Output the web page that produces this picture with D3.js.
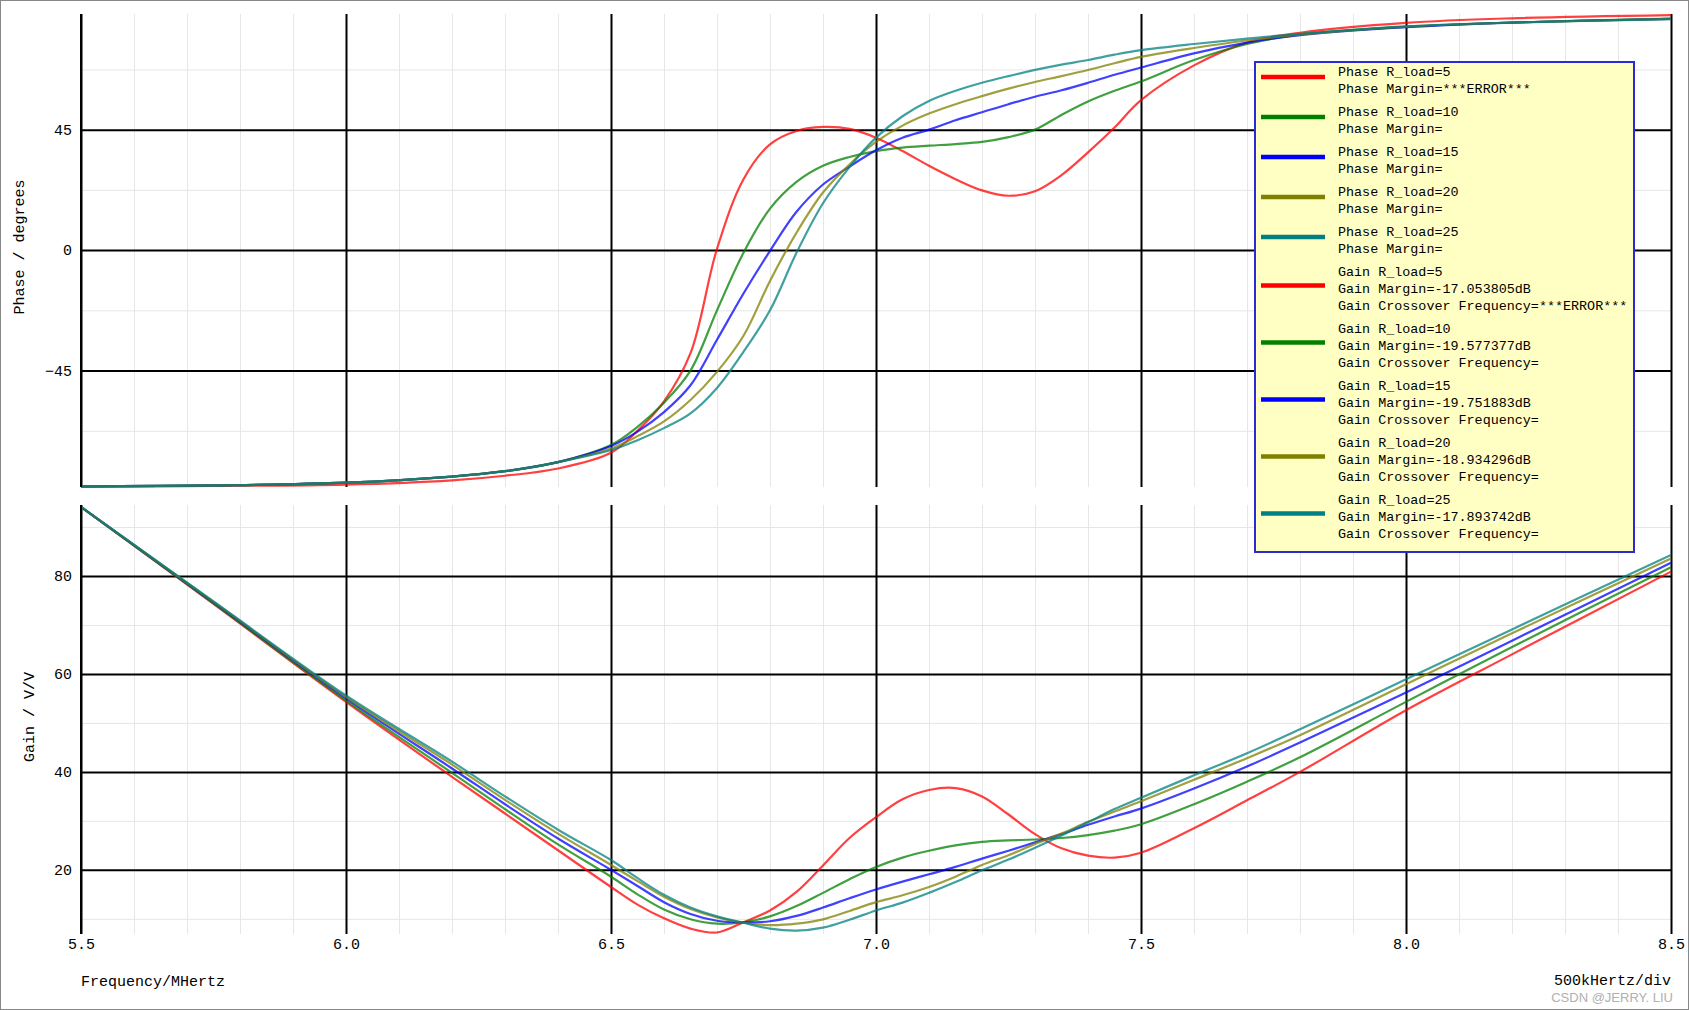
<!DOCTYPE html>
<html>
<head>
<meta charset="utf-8">
<script src="https://cdn.jsdelivr.net/npm/d3@7"></script>
<style>
  html, body { margin: 0; padding: 0; background: #fff; }
  svg { display: block; }
</style>
</head>
<body>
<svg id="chart" width="1689" height="1010"></svg>
<script>
// ---------------- DATA ----------------
const freq = [5.5, 5.75, 6.0, 6.2, 6.3, 6.4, 6.5, 6.55, 6.6, 6.65, 6.7, 6.75, 6.8, 6.85, 6.9, 6.95,
              7.0, 7.05, 7.1, 7.15, 7.2, 7.25, 7.3, 7.35, 7.4, 7.45, 7.5, 7.6, 7.7, 7.8, 8.0, 8.2, 8.5];

const phaseRload5  = [-88.4, -88.1, -87.6, -86.0, -84.3, -81.6, -75.7, -67.5, -56.5, -38.5, 0.5, 26.5, 39.5, 44.5, 46.0, 45.3,
                      42.0, 37.0, 31.5, 26.5, 22.3, 20.3, 22.0, 28.0, 36.5, 45.8, 56.0, 69.0, 77.5, 81.2, 84.9, 86.6, 87.8];
const phaseRload10 = [-88.3, -87.9, -86.9, -84.6, -82.6, -79.2, -72.8, -66.0, -57.0, -45.0, -22.5, -1.0, 15.5, 25.5, 31.5, 34.8,
                      37.0, 38.3, 39.0, 39.6, 40.4, 42.2, 45.0, 50.5, 55.5, 59.5, 63.0, 71.0, 77.0, 80.5, 83.4, 85.0, 86.5];
const phaseRload15 = [-88.3, -87.9, -86.9, -84.6, -82.6, -79.2, -73.2, -67.8, -60.5, -50.5, -33.5, -16.2, -0.3, 14.3, 24.5, 31.2,
                      37.3, 42.0, 45.0, 48.5, 51.5, 54.5, 57.3, 59.7, 62.5, 65.5, 68.2, 73.5, 77.5, 80.3, 83.3, 85.0, 86.4];
const phaseRload20 = [-88.3, -87.9, -86.9, -84.6, -82.6, -79.2, -74.1, -69.5, -64.0, -56.0, -45.5, -32.0, -11.5, 6.5, 21.5, 32.0,
                      40.4, 46.5, 51.0, 54.5, 57.5, 60.3, 62.8, 65.0, 67.3, 69.8, 72.2, 75.5, 78.3, 80.5, 83.5, 85.0, 86.4];
const phaseRload25 = [-88.3, -87.9, -86.9, -84.6, -82.6, -79.2, -74.7, -71.0, -66.5, -61.0, -51.5, -38.0, -22.5, -1.0, 17.5, 31.0,
                      42.0, 50.0, 55.7, 59.5, 62.5, 65.0, 67.3, 69.3, 71.0, 73.0, 74.7, 77.0, 79.0, 80.8, 83.6, 85.0, 86.3];

const gainRload5  = [94.1, 74.3, 54.3, 39.0, 31.5, 24.0, 16.5, 12.9, 10.1, 8.0, 7.2, 9.3, 11.7, 15.5, 20.9, 26.5,
                     30.75, 34.4, 36.3, 36.7, 35.0, 31.3, 27.3, 24.4, 22.9, 22.5, 23.5, 28.5, 34.2, 40.0, 52.6, 64.0, 80.9];
const gainRload10 = [94.1, 74.4, 54.6, 39.8, 32.4, 25.2, 18.6, 15.0, 11.9, 9.9, 9.0, 9.3, 10.5, 12.6, 15.3, 18.1,
                     20.6, 22.5, 23.9, 25.0, 25.7, 26.0, 26.2, 26.5, 27.1, 28.0, 29.3, 33.4, 38.0, 43.0, 54.3, 65.5, 81.8];
const gainRload15 = [94.1, 74.6, 55.0, 40.7, 33.4, 26.4, 20.0, 16.7, 13.4, 11.0, 9.6, 9.25, 9.5, 10.6, 12.3, 14.2,
                     16.0, 17.6, 19.1, 20.6, 22.3, 23.9, 25.6, 27.3, 29.2, 30.9, 32.5, 36.6, 41.1, 46.0, 56.2, 66.8, 82.7];
const gainRload20 = [94.1, 74.7, 55.3, 41.5, 34.3, 27.4, 21.0, 17.7, 14.5, 12.0, 10.3, 9.2, 8.7, 9.0, 9.9, 11.6,
                     13.4, 14.8, 16.5, 18.6, 21.0, 23.0, 25.3, 27.4, 29.8, 31.9, 34.0, 38.4, 42.8, 47.5, 57.9, 68.3, 83.6];
const gainRload25 = [94.1, 74.8, 55.6, 42.1, 35.0, 28.2, 22.0, 18.3, 14.9, 12.3, 10.5, 9.2, 8.0, 7.6, 8.2, 9.8,
                     11.7, 13.3, 15.3, 17.5, 19.9, 22.1, 24.5, 27.0, 29.7, 32.4, 34.7, 39.3, 43.8, 48.7, 58.9, 69.1, 84.3];

const seriesColors = ["#ff0000", "#008000", "#0000ff", "#808000", "#008080"];
const phaseSeries = [phaseRload5, phaseRload10, phaseRload15, phaseRload20, phaseRload25];
const gainSeries  = [gainRload5, gainRload10, gainRload15, gainRload20, gainRload25];

const xTickValues      = [5.5, 6.0, 6.5, 7.0, 7.5, 8.0, 8.5];
const phaseTickValues  = [-45, 0, 45];
const phaseMinorValues = [-67.5, -22.5, 22.5, 67.5];
const gainTickValues   = [20, 40, 60, 80];
const gainMinorValues  = [10, 30, 50, 70, 90];

const phaseLegend = [
  ["Phase R_load=5",  "Phase Margin=***ERROR***"],
  ["Phase R_load=10", "Phase Margin="],
  ["Phase R_load=15", "Phase Margin="],
  ["Phase R_load=20", "Phase Margin="],
  ["Phase R_load=25", "Phase Margin="]
];
const gainLegend = [
  ["Gain R_load=5",  "Gain Margin=-17.053805dB", "Gain Crossover Frequency=***ERROR***"],
  ["Gain R_load=10", "Gain Margin=-19.577377dB", "Gain Crossover Frequency="],
  ["Gain R_load=15", "Gain Margin=-19.751883dB", "Gain Crossover Frequency="],
  ["Gain R_load=20", "Gain Margin=-18.934296dB", "Gain Crossover Frequency="],
  ["Gain R_load=25", "Gain Margin=-17.893742dB", "Gain Crossover Frequency="]
];

// ---------------- LAYOUT ----------------
const W = 1689, H = 1010;
const left = 81, right = 1671;
const pTop = 14, pBottom = 487;
const gTop = 505, gBottom = 934;
const FONT = "'Liberation Mono', 'DejaVu Sans Mono', monospace";

const svg = d3.select("#chart");
svg.append("rect").attr("x", 0.5).attr("y", 0.5).attr("width", W - 1).attr("height", H - 1)
   .attr("fill", "#fff").attr("stroke", "#888").attr("stroke-width", 1);

const x = d3.scaleLinear().domain([5.5, 8.5]).range([left, right]);
const yP = d3.scaleLinear().domain([-88.5, 88.2]).range([pBottom, pTop]);
const yG = d3.scaleLinear().domain([6.9, 94.5]).range([gBottom, gTop]);

const xMinor = d3.range(56, 85).map(d => d / 10).filter(v => !xTickValues.some(t => Math.abs(t - v) < 1e-6));

function styleGrid(g, color, width) {
  g.select(".domain").remove();
  g.selectAll(".tick line").attr("stroke", color).attr("stroke-width", width);
}

function panel(y, top, bottom, majorY, minorY, withXLabels) {
  const h = bottom - top;
  svg.append("g").attr("transform", `translate(0,${bottom})`)
    .call(d3.axisBottom(x).tickValues(xMinor).tickSize(-h).tickFormat(""))
    .call(g => styleGrid(g, "#e6e6e6", 1));
  svg.append("g").attr("transform", `translate(${left},0)`)
    .call(d3.axisLeft(y).tickValues(minorY).tickSize(-(right - left)).tickFormat(""))
    .call(g => styleGrid(g, "#e6e6e6", 1));
  svg.append("g").attr("transform", `translate(0,${bottom})`)
    .call(d3.axisBottom(x).tickValues(xTickValues).tickSize(-h).tickFormat(""))
    .call(g => styleGrid(g, "#000", 2));
  svg.append("g").attr("transform", `translate(${left},0)`)
    .call(d3.axisLeft(y).tickValues(majorY).tickSize(-(right - left)).tickPadding(9).tickFormat(d3.format("d")))
    .call(g => {
      styleGrid(g, "#000", 2);
      g.selectAll(".tick text").attr("font-family", FONT).attr("font-size", 15).attr("fill", "#000");
    });
  if (withXLabels) {
    svg.append("g").attr("transform", `translate(0,${bottom})`)
      .call(d3.axisBottom(x).tickValues(xTickValues).tickSize(0).tickPadding(4.5).tickFormat(d3.format(".1f")))
      .call(g => {
        g.select(".domain").remove();
        g.selectAll(".tick text").attr("font-family", FONT).attr("font-size", 15).attr("fill", "#000");
      });
  }
}

panel(yP, pTop, pBottom, phaseTickValues, phaseMinorValues, false);
panel(yG, gTop, gBottom, gainTickValues, gainMinorValues, true);

// curves
function drawCurves(series, y) {
  const line = d3.line().x((d, i) => x(freq[i])).y(d => y(d)).curve(d3.curveCatmullRom.alpha(0.5));
  series.forEach((vals, k) => {
    svg.append("path").datum(vals)
      .attr("d", line)
      .attr("fill", "none")
      .attr("stroke", seriesColors[k])
      .attr("stroke-opacity", 0.75)
      .attr("stroke-width", 2.2)
      .attr("stroke-linejoin", "round");
  });
}
drawCurves(phaseSeries, yP);
drawCurves(gainSeries, yG);

// left axis lines
svg.append("line").attr("x1", left).attr("x2", left).attr("y1", pTop).attr("y2", pBottom)
   .attr("stroke", "#000").attr("stroke-width", 2);
svg.append("line").attr("x1", left).attr("x2", left).attr("y1", gTop).attr("y2", gBottom)
   .attr("stroke", "#000").attr("stroke-width", 2);

// axis titles
svg.append("text").attr("transform", "translate(24,247) rotate(-90)")
   .attr("text-anchor", "middle").attr("font-family", FONT).attr("font-size", 15)
   .text("Phase / degrees");
svg.append("text").attr("transform", "translate(34,717) rotate(-90)")
   .attr("text-anchor", "middle").attr("font-family", FONT).attr("font-size", 15)
   .text("Gain / V/V");
svg.append("text").attr("x", left).attr("y", 986)
   .attr("font-family", FONT).attr("font-size", 15).text("Frequency/MHertz");
svg.append("text").attr("x", right).attr("y", 985).attr("text-anchor", "end")
   .attr("font-family", FONT).attr("font-size", 15).text("500kHertz/div");
svg.append("text").attr("x", 1673).attr("y", 1002).attr("text-anchor", "end")
   .attr("font-family", "'Liberation Sans', Arial, sans-serif").attr("font-size", 13)
   .attr("fill", "#b0b0b0").text("CSDN @JERRY. LIU");

// legend
const lg = svg.append("g");
lg.append("rect").attr("x", 1255).attr("y", 62).attr("width", 379).attr("height", 490)
  .attr("fill", "#ffffc4").attr("stroke", "#2a2ad6").attr("stroke-width", 2);

const entries = phaseLegend.map((l, i) => ({lines: l, color: seriesColors[i]}))
  .concat(gainLegend.map((l, i) => ({lines: l, color: seriesColors[i]})));
let baseline = 75.5;
const lineH = 17, entryGap = 6;
entries.forEach(e => {
  const n = e.lines.length;
  const last = baseline + (n - 1) * lineH;
  const sy = (baseline - 10.5 + last) / 2 - 1.8;
  lg.append("line").attr("x1", 1261).attr("x2", 1325).attr("y1", sy).attr("y2", sy)
    .attr("stroke", e.color).attr("stroke-width", 4.5);
  e.lines.forEach((t, j) => {
    lg.append("text").attr("x", 1338).attr("y", baseline + j * lineH)
      .attr("font-family", FONT).attr("font-size", 13.4).attr("fill", "#000").text(t);
  });
  baseline += n * lineH + entryGap;
});
</script>
</body>
</html>
